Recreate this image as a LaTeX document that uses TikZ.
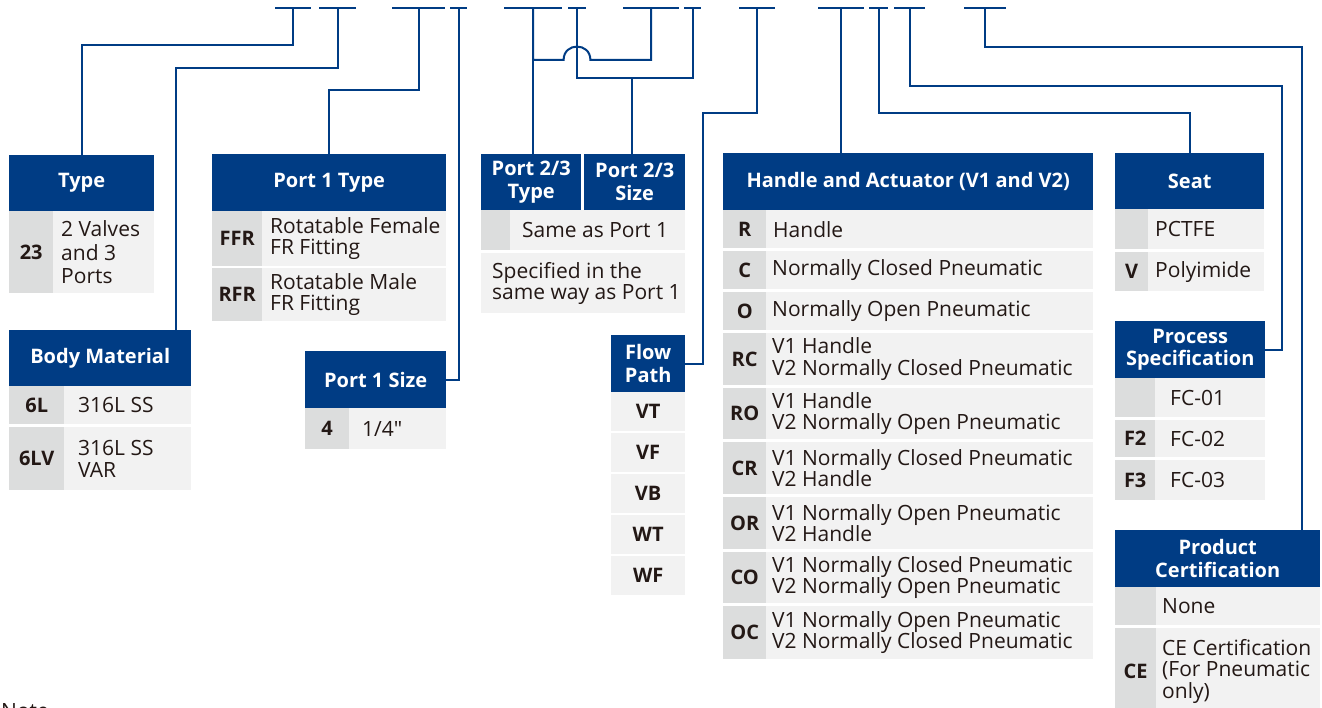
\documentclass[tikz,border=0pt]{standalone}
\usepackage{fontspec}
\setmainfont{Open Sans}
\newfontfamily\qtfont{Open Sans}[Ligatures=ResetAll]
\usetikzlibrary{calc}
\definecolor{hdrblue}{HTML}{003C84}
\definecolor{codegray}{HTML}{DCDDDD}
\definecolor{descgray}{HTML}{F2F2F2}
\definecolor{txt}{HTML}{231815}
\newcommand\hdrfont{\fontsize{20}{22.7}\selectfont\bfseries}
\newcommand\codefont{\fontsize{20}{22}\selectfont\bfseries}
\newcommand\descfont{\fontsize{21}{21.4}\selectfont}
\tikzset{
  hdr/.style={fill=hdrblue, text=white, font=\hdrfont, align=center, inner sep=0pt, anchor=north west},
  codecell/.style={fill=codegray, text=txt, font=\codefont, inner sep=0pt, anchor=north west},
  descbg/.style={fill=descgray, inner sep=0pt, anchor=north west},
  desctext/.style={text=txt, font=\descfont, align=left, inner sep=0pt, anchor=west},
  flowcell/.style={fill=descgray, text=txt, font=\codefont, inner sep=0pt, anchor=north west, minimum width=74pt, minimum height=38.5pt},
  conn/.style={draw=hdrblue, line width=2pt},
  topbar/.style={fill=hdrblue, inner sep=0pt, minimum height=2.6pt},
}
% #1 name, #2 x, #3 y, #4 code width, #5 total width, #6 height, #7 code, #8 text, #9 pad
\newcommand\tabrow[9]{%
  \pgfmathsetmacro\rowdw{#5-#4}%
  \node[codecell, minimum width=#4pt, minimum height=#6pt] (#1c) at (#2,#3) {#7};
  \node[descbg, minimum height=#6pt, minimum width=\rowdw pt] (#1d) at ({#2+#4},#3) {};
  \node[desctext] (#1t) at ([xshift=#9pt]#1d.west) {#8};
}
\begin{document}
\begin{tikzpicture}[x=1pt, y=-1pt]
\useasboundingbox (0,0) rectangle (1322,708);

% top marks
\node[topbar, minimum width=36.4pt] (t1) at (293,8) {};
\node[topbar, minimum width=37pt] (t2) at (337.5,8) {};
\node[topbar, minimum width=53pt] (t3) at (418.5,8) {};
\node[topbar, minimum width=17pt] (t4) at (458.5,8) {};
\node[topbar, minimum width=58pt] (t5) at (533,8) {};
\node[topbar, minimum width=18pt] (t6) at (577,8) {};
\node[topbar, minimum width=55.6pt] (t7) at (651,8) {};
\node[topbar, minimum width=17pt] (t8) at (692.5,8) {};
\node[topbar, minimum width=36pt] (t9) at (757,8) {};
\node[topbar, minimum width=45.5pt] (t10) at (841,8) {};
\node[topbar, minimum width=19.5pt] (t11) at (878.5,8) {};
\node[topbar, minimum width=31pt] (t12) at (909.5,8) {};
\node[topbar, minimum width=42pt] (t13) at (985,8) {};

% headers
\node[hdr, minimum width=145pt, minimum height=56pt] (hType) at (9,155) {Type};
\node[hdr, minimum width=234pt, minimum height=57pt] (hP1T) at (212,154) {Port 1 Type};
\node[hdr, minimum width=182pt, minimum height=56pt] (hBody) at (9,330) {Body Material};
\node[hdr, minimum width=141pt, minimum height=57pt] (hP1S) at (305,351) {Port 1 Size};
\node[hdr, minimum width=100pt, minimum height=56pt] (hP23T) at (481,154) {Port 2/3\\Type};
\node[hdr, minimum width=101pt, minimum height=56pt] (hP23S) at (584,154) {Port 2/3\\Size};
\node[hdr, minimum width=74pt, minimum height=57pt] (hFlow) at (611,335) {Flow\\Path};
\node[hdr, minimum width=370pt, minimum height=57pt] (hHandle) at (723,153) {Handle and Actuator (V1 and V2)};
\node[hdr, minimum width=149pt, minimum height=56pt] (hSeat) at (1115,153) {Seat};
\node[hdr, minimum width=150pt, minimum height=57pt] (hProc) at (1115,321) {Process\\Specification};
\node[hdr, minimum width=205pt, minimum height=57pt] (hCert) at (1115,530) {Product\\Certification};

% connectors
\draw[conn] (t1.center) -- ++(0,37) -| (hType.north);
\draw[conn] (t2.center) -- ++(0,59.7) -| ([xshift=-15pt]hBody.north east);
\draw[conn] (t3.center) -- ++(0,82) -| (hP1T.north);
\draw[conn] (t4.center) |- (hP1S.east);
\draw[conn] (t5.center) -- (t5.center |- hP23T.north);
\draw[conn] (t7.center) |- ($(t6.center)+(13.4,52)$) .. controls ($(t6.center)+(13.4,34.1)$) and ($(t6.center)+(-13.4,34.1)$) .. ($(t6.center)+(-13.4,52)$) -| (t5.center);
\draw[conn] (t6.center) -- ++(0,69.7) coordinate (j6) -| (t8.center);
\draw[conn] ([xshift=-3pt]hP23S.north) -- ([xshift=-3pt]hP23S.north |- j6);
\draw[conn] (t9.center) -- ++(0,105) -| ([xshift=18pt]hFlow.east) -- (hFlow.east);
\draw[conn] (t10.center) -- (t10.center |- hHandle.north);
\draw[conn] (t11.center) -- ++(0,105) -| (hSeat.north);
\draw[conn] (t12.center) -- ++(0,77.7) -| ([xshift=17pt]hProc.east) -- (hProc.east);
\draw[conn] (t13.center) -- ++(0,38.7) -| ([xshift=-18.5pt]hCert.north east);

% Type
\tabrow{rType}{9}{211}{44}{145}{82}{23}{2 Valves\\[2pt]and 3\\[2pt]Ports}{8}
% Port 1 Type
\tabrow{rFFR}{212}{211}{50}{234}{55}{FFR}{Rotatable Female\\FR Fitting}{8}
\tabrow{rRFR}{212}{268}{50}{234}{53}{RFR}{Rotatable Male\\FR Fitting}{8}
% Body
\tabrow{rSixL}{9}{386}{55}{182}{38}{6L}{316L SS}{14}
\tabrow{rSixLV}{9}{427}{55}{182}{63}{6LV}{316L SS\\VAR}{14}
% Port 1 Size
\tabrow{rSize}{305}{408}{44}{141}{41}{4}{1/4{\qtfont "}}{13}
% Port 2/3
\tabrow{rSame}{481}{210}{29}{204}{40}{}{Same as Port 1}{12}
\node[descbg, minimum height=60pt, minimum width=204pt] (rSpec) at (481,253) {};
\node[desctext] (rSpecT) at ([xshift=11pt]rSpec.west) {Specified in the\\same way as Port 1};
% Flow path
\node[flowcell] (fVT) at (611,392) {VT};
\node[flowcell] (fVF) at (611,433) {VF};
\node[flowcell] (fVB) at (611,474) {VB};
\node[flowcell] (fWT) at (611,515) {WT};
\node[flowcell] (fWF) at (611,556) {WF};
% Handle
\tabrow{hR}{723}{210}{43}{370}{38}{R}{Handle}{7}
\tabrow{hC}{723}{251}{43}{370}{38}{C}{Normally Closed Pneumatic}{6}
\tabrow{hO}{723}{292}{43}{370}{38}{O}{Normally Open Pneumatic}{6}
\tabrow{hRC}{723}{333}{43}{370}{52}{RC}{V1 Handle\\V2 Normally Closed Pneumatic}{6}
\tabrow{hRO}{723}{388}{43}{370}{51}{RO}{V1 Handle\\V2 Normally Open Pneumatic}{6}
\tabrow{hCR}{723}{442}{43}{370}{52}{CR}{V1 Normally Closed Pneumatic\\V2 Handle}{6}
\tabrow{hOR}{723}{497}{43}{370}{52}{OR}{V1 Normally Open Pneumatic\\V2 Handle}{6}
\tabrow{hCO}{723}{552}{43}{370}{51}{CO}{V1 Normally Closed Pneumatic\\V2 Normally Open Pneumatic}{6}
\tabrow{hOC}{723}{606}{43}{370}{53}{OC}{V1 Normally Open Pneumatic\\V2 Normally Closed Pneumatic}{6}
% Seat
\tabrow{sP}{1115}{209}{33}{149}{40}{}{PCTFE}{7}
\tabrow{sV}{1115}{252}{33}{149}{39}{V}{Polyimide}{7}
% Process
\tabrow{pA}{1115}{378}{40}{150}{39}{}{FC-01}{15}
\tabrow{pB}{1115}{420}{40}{150}{37}{F2}{FC-02}{15}
\tabrow{pC}{1115}{460}{40}{150}{40}{F3}{FC-03}{15}
% Certification
\tabrow{cN}{1115}{587}{41}{205}{38}{}{None}{6}
\tabrow{cE}{1115}{628}{41}{205}{86}{CE}{CE Certification\\(For Pneumatic\\only)}{6}

\node[anchor=north west, inner sep=0pt, font=\descfont, text=txt] (note) at (1,703) {Note};
\end{tikzpicture}
\end{document}
